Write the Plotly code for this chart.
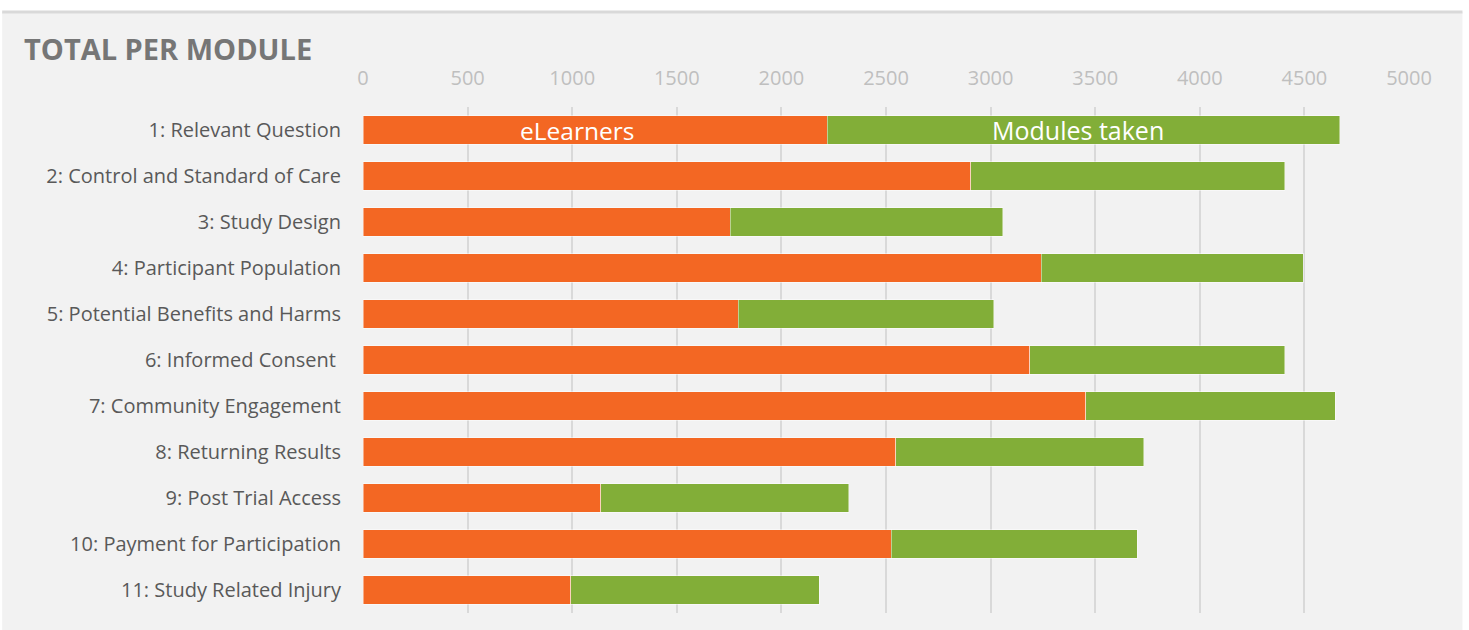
import plotly.graph_objects as go

categories = [
    "1: Relevant Question",
    "2: Control and Standard of Care",
    "3: Study Design",
    "4: Participant Population",
    "5: Potential Benefits and Harms",
    "6: Informed Consent ",
    "7: Community Engagement",
    "8: Returning Results",
    "9: Post Trial Access",
    "10: Payment for Participation",
    "11: Study Related Injury",
]
elearners = [2219, 2905, 1755, 3241, 1794, 3187, 3455, 2546, 1137, 2525, 993]
modules_taken = [2451, 1501, 1304, 1253, 1222, 1219, 1192, 1187, 1184, 1175, 1188]
x_ticks = [0, 500, 1000, 1500, 2000, 2500, 3000, 3500, 4000, 4500, 5000]

W, H = 1469, 630
L, R, T, B = 363, 59.5, 107, 17
pw = W - L - R
ph = H - T - B

def px(x):
    return (x - L) / pw

def py(y):
    return 1 - (y - T) / ph

fig = go.Figure()
fig.add_trace(go.Bar(
    y=categories, x=elearners, orientation="h", name="eLearners",
    marker=dict(color="#F36723", line=dict(color="rgba(255,255,255,0.45)", width=1)),
))
fig.add_trace(go.Bar(
    y=categories, x=modules_taken, orientation="h", name="Modules taken",
    marker=dict(color="#82AE38", line=dict(color="rgba(255,255,255,0.45)", width=1)),
))

fig.update_layout(
    width=W, height=H,
    barmode="stack", bargap=0.39,
    showlegend=False,
    paper_bgcolor="white",
    plot_bgcolor="rgba(0,0,0,0)",
    margin=dict(l=L, r=R, t=T, b=B, pad=0),
    font=dict(family="Open Sans", color="#595959"),
    xaxis=dict(
        side="top", range=[0, 5000], tickvals=x_ticks,
        showgrid=True, gridcolor="#d9d9d9", gridwidth=2,
        zeroline=False, showline=False, ticks="",
        tickfont=dict(size=20, color="#bfbfbf", family="Open Sans"),
        ticklabelstandoff=17,
    ),
    yaxis=dict(
        autorange="reversed", showgrid=False, zeroline=False, showline=False,
        ticks="", tickfont=dict(size=20, color="#595959", family="Open Sans"),
        ticklabelstandoff=21,
    ),
    shapes=[
        dict(type="rect", xref="paper", yref="paper",
             x0=px(2), x1=px(1463), y0=py(H + 5), y1=py(12),
             fillcolor="#f2f2f2", line=dict(width=0), layer="below"),
        dict(type="line", xref="paper", yref="paper",
             x0=px(2), x1=px(1463), y0=py(12), y1=py(12),
             line=dict(color="#d9d9d9", width=3), layer="below"),
    ],
    annotations=[
        dict(text="<b>TOTAL PER MODULE</b>", xref="paper", yref="paper",
             x=px(22), y=py(48), xanchor="left", yanchor="middle", showarrow=False,
             font=dict(size=29, color="#767676", family="Open Sans")),
        dict(text="eLearners", xref="x", yref="y", x=1025, y=categories[0],
             xanchor="center", yanchor="middle", showarrow=False,
             font=dict(size=24.5, color="white", family="Open Sans")),
        dict(text="Modules taken", xref="x", yref="y", x=3416, y=categories[0],
             xanchor="center", yanchor="middle", showarrow=False,
             font=dict(size=25, color="white", family="Open Sans")),
    ],
)

fig.write_html("out.html", config={"displayModeBar": False},
               post_script="document.body.style.margin='0';")
